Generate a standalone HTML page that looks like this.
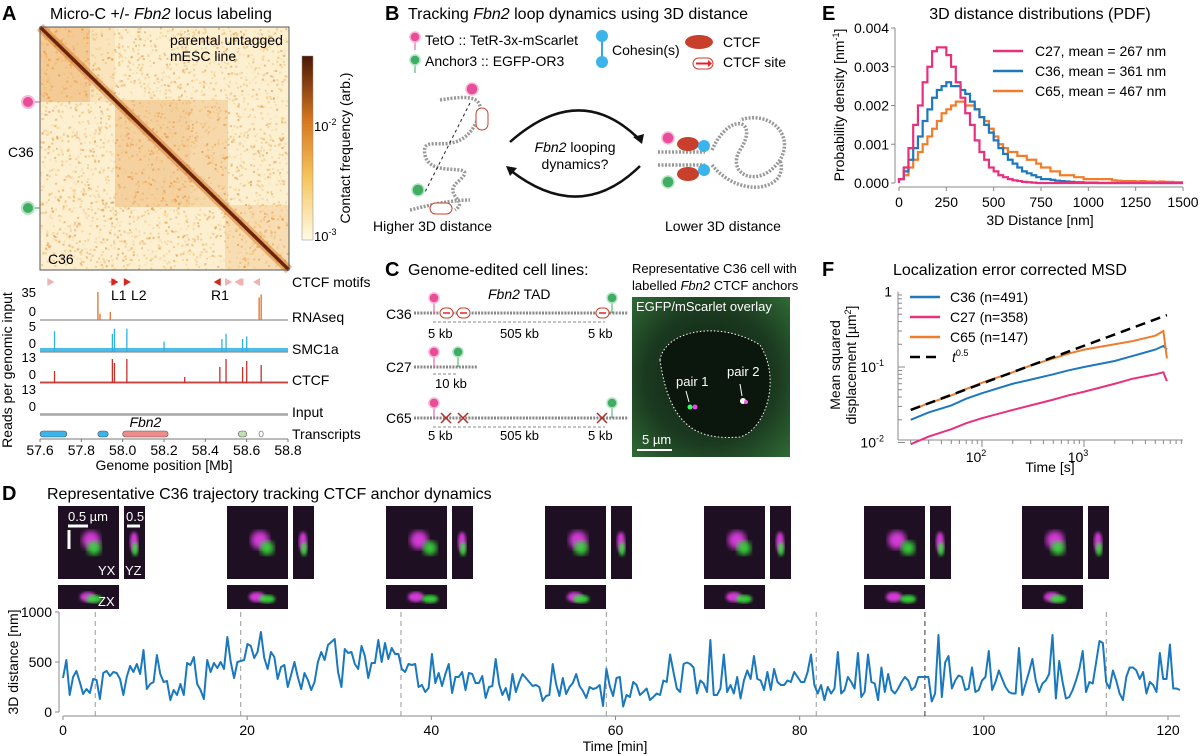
<!DOCTYPE html>
<html><head><meta charset="utf-8"><style>
html,body{margin:0;padding:0;background:#fff;}
svg{display:block;font-family:"Liberation Sans",Arial,sans-serif;}
</style></head><body>
<svg id="fig" width="1200" height="756" viewBox="0 0 1200 756" xmlns="http://www.w3.org/2000/svg">
<defs>
<filter id="blur2"><feGaussianBlur stdDeviation="3"/></filter>
<filter id="blur1"><feGaussianBlur stdDeviation="1.5"/></filter>
<linearGradient id="cbar" x1="0" y1="1" x2="0" y2="0">
<stop offset="0" stop-color="#fffbe6"/><stop offset="0.35" stop-color="#f6c35a"/><stop offset="0.65" stop-color="#d7761f"/><stop offset="1" stop-color="#4a1805"/>
</linearGradient>
<radialGradient id="cell" cx="0.5" cy="0.5" r="0.7"><stop offset="0" stop-color="#0e1d10"/><stop offset="0.6" stop-color="#1b3a20"/><stop offset="1" stop-color="#2f6a35"/></radialGradient>
</defs>

<!-- PANEL A -->
<g>
<text x="2" y="20" font-size="20" font-weight="bold">A</text>
<text x="50" y="19" font-size="16">Micro-C +/- <tspan font-style="italic">Fbn2</tspan> locus labeling</text>
<g>
<rect x="40" y="27" width="249" height="243" fill="#fdf0d0"/>
<rect x="40" y="27" width="50" height="75" fill="#e8903a" opacity="0.3"/>
<rect x="40" y="27" width="75" height="75" fill="#eea04a" opacity="0.15"/>
<rect x="115" y="100" width="113" height="107" fill="#e8903a" opacity="0.25"/>
<rect x="115" y="100" width="75" height="107" fill="#e8903a" opacity="0.1"/>
<rect x="225" y="205" width="64" height="65" fill="#e8903a" opacity="0.2"/>
<g id="speckle"></g>
<line x1="40" y1="27" x2="289" y2="270" stroke="#d9782a" stroke-width="9" opacity="0.5"/>
<line x1="40" y1="27" x2="289" y2="270" stroke="#6b2508" stroke-width="3.5"/>
<rect x="40" y="27" width="249" height="243" fill="none" stroke="#555" stroke-width="1"/>
<text x="170" y="45" font-size="14">parental untagged</text>
<text x="170" y="61" font-size="14">mESC line</text>
<text x="48" y="264" font-size="14">C36</text>
</g>
<line x1="28" y1="102" x2="40" y2="102" stroke="#e3478f"/>
<circle cx="28" cy="102" r="6" fill="#e94d9a" stroke="#f9b6d6" stroke-width="2"/>
<line x1="28" y1="208" x2="40" y2="208" stroke="#3a9e58"/>
<circle cx="28" cy="208" r="6" fill="#3fae62" stroke="#b5e3c3" stroke-width="2"/>
<text x="8" y="157" font-size="14">C36</text>
<rect x="302" y="56" width="11" height="184" fill="url(#cbar)" stroke="#888" stroke-width="0.5"/>
<text x="314" y="131" font-size="13">10<tspan font-size="9" dy="-6">-2</tspan></text>
<text x="314" y="241" font-size="13">10<tspan font-size="9" dy="-6">-3</tspan></text>
<text transform="translate(350,148) rotate(-90)" text-anchor="middle" font-size="14">Contact frequency (arb.)</text>
<g id="tracks"></g>
</g>

<!-- PANEL B -->
<g>
<text x="385" y="20" font-size="20" font-weight="bold">B</text>
<text x="408" y="19" font-size="16">Tracking <tspan font-style="italic">Fbn2</tspan> loop dynamics using 3D distance</text>
<line x1="415" y1="42" x2="415" y2="50" stroke="#e94d9a"/><circle cx="415" cy="37" r="5" fill="#e94d9a" stroke="#f9b6d6" stroke-width="1.5"/>
<text x="425" y="45" font-size="14">TetO :: TetR-3x-mScarlet</text>
<line x1="415" y1="65" x2="415" y2="73" stroke="#3fae62"/><circle cx="415" cy="60" r="5" fill="#3fae62" stroke="#b5e3c3" stroke-width="1.5"/>
<text x="425" y="66" font-size="14">Anchor3 :: EGFP-OR3</text>
<line x1="602" y1="36" x2="602" y2="62" stroke="#37a9e0" stroke-width="2"/>
<circle cx="602" cy="36" r="6" fill="#3ab4ea"/><circle cx="602" cy="62" r="6" fill="#3ab4ea"/>
<text x="612" y="55" font-size="14">Cohesin(s)</text>
<ellipse cx="699" cy="42" rx="14" ry="7" fill="#c8402c"/>
<text x="723" y="47" font-size="14">CTCF</text>
<rect x="693" y="58" width="20" height="11" rx="5.5" fill="#fff" stroke="#c8402c"/><line x1="696" y1="63.5" x2="708" y2="63.5" stroke="#e8202a" stroke-width="2"/><polygon points="708,60 712,63.5 708,67" fill="#e8202a"/>
<text x="723" y="67" font-size="14">CTCF site</text>
<g fill="none" stroke="#999" stroke-width="3.5" stroke-dasharray="2 1.5">
<path d="M440,100 C470,95 490,95 475,125 C455,160 420,130 425,155 C430,180 480,160 460,180 C440,195 470,200 455,210"/>
<path d="M410,210 C430,205 450,200 470,200"/>
</g>
<line x1="470" y1="103" x2="425" y2="192" stroke="#222" stroke-dasharray="3 3"/>
<circle cx="472" cy="89" r="6" fill="#e94d9a" stroke="#f9b6d6" stroke-width="1.5"/>
<circle cx="418" cy="190" r="6" fill="#3fae62" stroke="#b5e3c3" stroke-width="1.5"/>
<rect x="476" y="108" width="12" height="22" rx="6" fill="#fff" stroke="#c8402c"/>
<rect x="430" y="203" width="22" height="11" rx="5.5" fill="#fff" stroke="#c8402c"/>
<path d="M510,142 Q580,80 640,140" fill="none" stroke="#111" stroke-width="2.5"/>
<polygon points="642,144 633,137 644,134" fill="#111"/>
<path d="M640,166 Q580,225 510,170" fill="none" stroke="#111" stroke-width="2.5"/>
<polygon points="506,166 517,168 510,176" fill="#111"/>
<text x="575" y="152" font-size="14" text-anchor="middle"><tspan font-style="italic">Fbn2</tspan> looping</text>
<text x="575" y="169" font-size="14" text-anchor="middle">dynamics?</text>
<g fill="none" stroke="#999" stroke-width="3.5" stroke-dasharray="2 1.5">
<path d="M658,152 L705,152 M658,165 L705,165"/>
<path d="M712,150 C730,110 760,120 740,150 C725,175 760,190 780,160 C795,135 770,110 740,120"/>
<path d="M712,165 C740,200 790,190 780,160"/>
</g>
<circle cx="668" cy="138" r="6" fill="#e94d9a" stroke="#f9b6d6" stroke-width="1.5"/>
<circle cx="668" cy="182" r="6" fill="#3fae62" stroke="#b5e3c3" stroke-width="1.5"/>
<ellipse cx="688" cy="144" rx="11" ry="7" fill="#c8402c"/><ellipse cx="688" cy="174" rx="11" ry="7" fill="#c8402c"/>
<circle cx="704" cy="146" r="6" fill="#3ab4ea"/><circle cx="704" cy="170" r="6" fill="#3ab4ea"/>
<text x="373" y="231" font-size="14">Higher 3D distance</text>
<text x="665" y="231" font-size="14">Lower 3D distance</text>
</g>

<!-- PANEL C -->
<g>
<text x="385" y="276" font-size="20" font-weight="bold">C</text>
<text x="408" y="275" font-size="16">Genome-edited cell lines:</text>
<text x="632" y="273" font-size="13">Representative C36 cell with</text>
<text x="632" y="290" font-size="13">labelled <tspan font-style="italic">Fbn2</tspan> CTCF anchors</text>
<text x="488" y="299" font-size="14"><tspan font-style="italic">Fbn2</tspan> TAD</text>
<g font-size="14">
<text x="386" y="319">C36</text>
<text x="386" y="372">C27</text>
<text x="386" y="423">C65</text>
</g>
<g fill="none" stroke="#888" stroke-width="3" stroke-dasharray="2 1.2">
<line x1="414" y1="313" x2="628" y2="313"/><line x1="414" y1="367" x2="478" y2="367"/><line x1="414" y1="418" x2="628" y2="418"/>
</g>
<g stroke="#888" stroke-dasharray="3 2"><line x1="433" y1="322" x2="605" y2="322"/><line x1="433" y1="374" x2="458" y2="374"/><line x1="433" y1="427" x2="605" y2="427"/></g>
<g font-size="13">
<text x="428" y="338">5 kb</text><text x="500" y="338">505 kb</text><text x="588" y="338">5 kb</text>
<text x="435" y="388">10 kb</text>
<text x="428" y="440">5 kb</text><text x="500" y="440">505 kb</text><text x="588" y="440">5 kb</text>
</g>
<g id="pins"></g>
<g>
<rect x="632" y="297" width="158" height="160" fill="url(#cell)"/>
<path d="M660,360 C665,330 720,320 760,345 C782,380 765,430 740,437 C700,440 670,430 660,360 Z" fill="#0b160c" stroke="#fff" stroke-dasharray="1.5 2" stroke-width="1"/>
<text x="636" y="311" font-size="13" fill="#fff">EGFP/mScarlet overlay</text>
<text x="676" y="386" font-size="13" fill="#fff">pair 1</text>
<text x="727" y="376" font-size="13" fill="#fff">pair 2</text>
<circle cx="690" cy="407" r="2.5" fill="#3f6"/><circle cx="695" cy="407" r="2.5" fill="#e4e"/>
<circle cx="743" cy="401" r="3" fill="#fff"/><circle cx="746" cy="402" r="2" fill="#e6e"/>
<line x1="686" y1="391" x2="689" y2="402" stroke="#fff"/><line x1="740" y1="384" x2="742" y2="396" stroke="#fff"/>
<line x1="637" y1="450" x2="672" y2="450" stroke="#fff" stroke-width="2"/>
<text x="642" y="444" font-size="13" fill="#fff">5 µm</text>
</g>
</g>

<!-- PANEL E -->
<g>
<text x="822" y="20" font-size="20" font-weight="bold">E</text>
<text x="1040" y="19" font-size="16" text-anchor="middle">3D distance distributions (PDF)</text>
<text transform="translate(844,105) rotate(-90)" font-size="14" text-anchor="middle">Probability density [nm<tspan font-size="9" dy="-5">-1</tspan><tspan dy="5">]</tspan></text>
<text x="1040" y="225" font-size="14" text-anchor="middle">3D Distance [nm]</text>
<g id="chartE"></g>
</g>

<!-- PANEL F -->
<g>
<text x="822" y="276" font-size="20" font-weight="bold">F</text>
<text x="893" y="275" font-size="16">Localization error corrected MSD</text>
<text transform="translate(840,365) rotate(-90)" font-size="14" text-anchor="middle">Mean squared</text>
<text transform="translate(856,365) rotate(-90)" font-size="14" text-anchor="middle">displacement [µm<tspan font-size="9" dy="-5">2</tspan><tspan dy="5">]</tspan></text>
<text x="1050" y="472" font-size="14" text-anchor="middle">Time [s]</text>
<g id="chartF"></g>
</g>

<!-- PANEL D -->
<g>
<text x="2" y="500" font-size="20" font-weight="bold">D</text>
<text x="47" y="499" font-size="16">Representative C36 trajectory tracking CTCF anchor dynamics</text>
<g id="tiles"></g>
<text transform="translate(18,662) rotate(-90)" font-size="14" text-anchor="middle">3D distance [nm]</text>
<text x="615" y="751" font-size="14" text-anchor="middle">Time [min]</text>
<g id="chartD"></g>
</g>
</svg>

<script>
// ===== Panel D data =====
const trajValues = [340,520,170,350,410,300,180,230,190,330,320,130,390,410,360,400,390,330,170,350,460,400,480,380,620,230,280,300,570,380,300,310,120,220,170,280,170,490,470,550,280,220,130,520,400,490,440,500,430,750,500,340,500,510,520,680,660,540,600,800,540,430,600,550,330,450,470,250,370,500,350,230,390,320,220,300,500,600,520,670,700,730,400,250,630,590,600,480,430,660,560,340,490,490,720,500,690,530,640,580,580,430,400,480,470,480,250,270,200,240,580,290,390,260,380,480,190,350,350,400,220,390,380,290,290,360,140,250,260,530,280,170,240,120,380,200,300,380,340,300,260,270,250,110,160,170,480,280,160,340,180,250,290,380,260,210,140,250,230,240,270,60,430,260,160,340,
350,55,170,150,300,270,170,200,235,120,150,185,170,315,300,575,400,235,200,480,495,480,445,185,315,285,200,720,170,170,235,575,200,270,185,350,135,315,415,330,560,330,315,220,400,220,430,300,270,270,315,300,400,350,300,300,400,575,270,185,270,120,250,185,235,600,185,220,350,300,235,590,150,200,575,300,285,120,445,200,380,220,185,235,300,350,315,220,250,350,350,350,350,105,185,770,150,495,560,235,315,365,350,220,235,445,200,220,315,350,610,220,300,415,330,250,200,185,185,640,170,285,400,530,315,200,285,315,380,770,135,510,300,135,150,220,315,430,610,200,300,285,495,710,690,300,235,415,315,185,120,350,445,445,415,330,400,185,300,270,200,590,330,330,675,235,235,220];
const trajEndTime = 121.3;
const frameTimes = [3.5, 19.3, 36.7, 59, 81.8, 93.6, 113.3];
const dXTicks = [0,20,40,60,80,100,120];
const dYTicks = [0,500,1000];

// ===== Panel E data =====
const eBinWidth = 25;
const pdfC27 = [0.0001,0.0004,0.0009,0.0015,0.002,0.0026,0.003,0.0034,0.0035,0.0035,0.0033,0.003,0.0026,0.0022,0.0018,0.0015,0.0011,0.0008,0.0006,0.0004,0.0003,0.0002,0.00015,0.0001,0.00007,0.00005,0.00003,0.00002,0.00001,0,0,0,0,0,0,0,0,0,0,0,0,0,0,0,0,0,0,0,0,0,0,0,0,0,0,0,0,0,0,0];
const pdfC36 = [0.0001,0.0003,0.0006,0.0009,0.0012,0.0016,0.0019,0.0022,0.0024,0.0025,0.0026,0.0025,0.0025,0.0024,0.0023,0.0021,0.0019,0.0017,0.0015,0.0013,0.0011,0.0009,0.00075,0.0006,0.0005,0.0004,0.0003,0.00025,0.0002,0.00015,0.0001,0.0001,0.00008,0.00006,0.00005,0.00004,0.00003,0.00002,0.00002,0.00001,0.00001,0.00001,0,0,0,0,0,0,0,0,0,0,0,0,0,0,0,0,0,0];
const pdfC65 = [0.0001,0.0002,0.0004,0.0006,0.0008,0.001,0.0012,0.0014,0.0016,0.0018,0.0019,0.002,0.0021,0.0021,0.002,0.002,0.0019,0.0017,0.0016,0.0014,0.0012,0.001,0.0009,0.0008,0.0008,0.0007,0.0007,0.0006,0.0006,0.0005,0.0004,0.0004,0.0003,0.0003,0.0002,0.0002,0.0002,0.00015,0.00015,0.0001,0.0001,0.0001,0.0001,0.0001,0.0001,0.00007,0.00006,0.00005,0.00005,0.00005,0.00004,0.00005,0.00004,0.00004,0.00003,0.00004,0.00003,0.00003,0.00002,0.00002];
const eSeriesNames = ["C27,  mean = 267 nm","C36,  mean = 361 nm","C65,  mean = 467 nm"];
const eXTicks = [0,250,500,750,1000,1250,1500];
const eYTicks = [0,0.001,0.002,0.003,0.004];

// ===== Panel F data =====
const msdTimes = [20,30,50,70,100,200,300,500,700,1000,2000,3000,5000,6000,6500];
const msdC36 = [0.02,0.025,0.031,0.038,0.045,0.06,0.068,0.08,0.09,0.1,0.12,0.14,0.17,0.19,0.17];
const msdC27 = [0.0095,0.012,0.015,0.018,0.021,0.027,0.031,0.037,0.042,0.047,0.06,0.07,0.08,0.085,0.065];
const msdC65 = [0.027,0.033,0.042,0.051,0.062,0.085,0.105,0.13,0.15,0.17,0.2,0.22,0.26,0.3,0.13];
const fSeriesNames = ["C36 (n=491)","C27 (n=358)","C65 (n=147)"];
const fYTickExps = [-2,-1,0];

// ===== Panel A tracks data =====
const genomeTicks = [57.6,57.8,58.0,58.2,58.4,58.6,58.8];
const rnaPeaksPos = [57.88,57.89,57.94,58.66,58.67];
const rnaPeaksVal = [35,8,10,28,32];
const smcPeaksPos = [57.67,57.95,57.96,58.02,58.2,58.48,58.5,58.58,58.6];
const smcPeaksVal = [4,3.5,4.5,4.5,2,2.5,3.5,2.5,3];
const ctcfPeaksPos = [57.67,57.95,57.96,58.02,58.3,58.47,58.5,58.58,58.6,58.67];
const ctcfPeaksVal = [6,12,10,12,3,8,12,8,11,9];
const motifPos = [57.65,57.95,57.96,58.02,58.46,58.51,58.56,58.57,58.65];
const motifDir = [1,-1,1,1,-1,1,-1,-1,-1];
const motifStrong = [0,0,1,1,1,0,0,0,0];

const NS="http://www.w3.org/2000/svg";
function el(tag, attrs, parent){const e=document.createElementNS(NS,tag);for(const k in attrs)e.setAttribute(k,attrs[k]);parent.appendChild(e);return e;}
function txt(s, attrs, parent){const e=el('text',attrs,parent);e.textContent=s;return e;}

// ---------- heatmap speckle texture (decorative) ----------
(function(){
const g=document.getElementById('speckle');


let seed=12345;
const rnd=()=>{seed=(seed*1103515245+12345)%2147483648;return seed/2147483648;};
let s='';
for(let i=0;i<2600;i++){const x=40+rnd()*247,y=27+rnd()*241;const o=(0.15+rnd()*0.45).toFixed(2);
const c=rnd()<0.5?'#e38a35':'#f0b860';
s+='<rect x="'+x.toFixed(1)+'" y="'+y.toFixed(1)+'" width="2" height="2" fill="'+c+'" opacity="'+o+'"/>';}
g.innerHTML=s;
})();

// ---------- Panel E ----------
(function(){
const g=document.getElementById('chartE');
const x0=899,x1=1183,y0=183,y1=28;
const xs=v=>x0+(v/1500)*(x1-x0);
const ys=v=>y0-(v/0.004)*(y0-y1);
let a=el('line',{x1:x0-4,y1:y0,x2:x0-4,y2:y1,stroke:'#888'},g);


a=el('line',{x1:x0,y1:y0+4,x2:x1,y2:y0+4,stroke:'#888'},g);


eXTicks.forEach(t=>{el('line',{x1:xs(t),y1:y0+4,x2:xs(t),y2:y0+8,stroke:'#888'},g);
const tl=txt(String(t),{x:xs(t),y:y0+24,'font-size':14,'text-anchor':'middle'},g);

});
eYTicks.forEach(t=>{el('line',{x1:x0-8,y1:ys(t),x2:x0-4,y2:ys(t),stroke:'#888'},g);
const tl=txt(t.toFixed(3),{x:x0-10,y:ys(t)+5,'font-size':14,'text-anchor':'end'},g);

});
const cols=['#e8317c','#1f78bd','#f07d2c'];
const data=[pdfC27,pdfC36,pdfC65];
const order=[2,1,0];
order.forEach(i=>{let d='M'+xs(0)+','+ys(0);data[i].forEach((v,k)=>{d+=' L'+xs(k*eBinWidth)+','+ys(v)+' L'+xs((k+1)*eBinWidth)+','+ys(v);});
const p=el('path',{d:d,fill:'none',stroke:cols[i],'stroke-width':2.2},g);

});
eSeriesNames.forEach((n,i)=>{const ly=51+i*20;
const l=el('line',{x1:993,y1:ly,x2:1023,y2:ly,stroke:cols[i],'stroke-width':2.5},g);


const t=txt(n,{x:1035,y:ly+5,'font-size':14},g);

});
})();

// ---------- Panel F ----------
(function(){
const g=document.getElementById('chartF');
const x0=898,x1=1183,yb=440;
const xs=v=>982+(Math.log10(v)-2)*102;
const ys=v=>367-(Math.log10(v)+1)*75.5;
let a=el('line',{x1:x0,y1:yb,x2:x0,y2:ys(1),stroke:'#888'},g);


a=el('line',{x1:x0,y1:yb,x2:x1,y2:yb,stroke:'#888'},g);


for(let e=1;e<=3;e++)for(let m=1;m<10;m++){const v=m*Math.pow(10,e);if(v<20||v>9000)continue;
el('line',{x1:xs(v),y1:yb,x2:xs(v),y2:yb+(m===1?7:4),stroke:'#888'},g);}
for(let e=-2;e<0;e++)for(let m=1;m<10;m++){const v=m*Math.pow(10,e);
el('line',{x1:x0,y1:ys(v),x2:x0+(m===1?7:4),y2:ys(v),stroke:'#888'},g);}
[2,3].forEach(e=>{const t=txt('10',{x:xs(Math.pow(10,e))-6,y:yb+22,'font-size':14,'text-anchor':'middle'},g);
const s=el('tspan',{'font-size':9,dy:-6},t);s.textContent=String(e);

});
fYTickExps.forEach(e=>{const t=txt(e===0?'1':'10',{x:x0-(e===0?6:14),y:ys(Math.pow(10,e))+5,'font-size':14,'text-anchor':'end'},g);
if(e!==0){const s=el('tspan',{'font-size':9,dy:-6},t);s.textContent=String(e);}

});
const cols=['#1f78bd','#e8317c','#f07d2c'];
const data=[msdC36,msdC27,msdC65];
[1,0,2].forEach(i=>{const pts=msdTimes.map((t,k)=>xs(t)+','+ys(data[i][k])).join(' ');
const p=el('polyline',{points:pts,fill:'none',stroke:cols[i],'stroke-width':2},g);

});
const ref=el('line',{x1:xs(msdTimes[0]),y1:ys(msdC65[0]),x2:xs(6500),y2:ys(msdC65[0]*Math.sqrt(6500/msdTimes[0])),stroke:'#000','stroke-width':2.5,'stroke-dasharray':'10 6'},g);


fSeriesNames.forEach((n,i)=>{const ly=297+i*20;
const l=el('line',{x1:910,y1:ly,x2:940,y2:ly,stroke:cols[i],'stroke-width':2.5},g);


const t=txt(n,{x:950,y:ly+5,'font-size':14},g);

});
const l=el('line',{x1:910,y1:357,x2:940,y2:357,stroke:'#000','stroke-width':2.5,'stroke-dasharray':'10 6'},g);


const t=txt('t',{x:952,y:362,'font-size':14,'font-style':'italic'},g);
const s=el('tspan',{'font-size':9,dy:-6,'font-style':'normal'},t);s.textContent='0.5';


})();

// ---------- Panel D ----------
(function(){
const g=document.getElementById('chartD');
const xs=v=>63+v*(1168-63)/120;
const ys=v=>712-v*0.1;
let a=el('line',{x1:59,y1:ys(0),x2:59,y2:ys(1000),stroke:'#888'},g);


a=el('line',{x1:xs(0),y1:716,x2:1180,y2:716,stroke:'#888'},g);


dXTicks.forEach(t=>{el('line',{x1:xs(t),y1:716,x2:xs(t),y2:720,stroke:'#888'},g);
const tl=txt(String(t),{x:xs(t),y:735,'font-size':14,'text-anchor':'middle'},g);

});
dYTicks.forEach(t=>{el('line',{x1:55,y1:ys(t),x2:59,y2:ys(t),stroke:'#888'},g);
const tl=txt(String(t),{x:52,y:ys(t)+5,'font-size':14,'text-anchor':'end'},g);

});
frameTimes.forEach((t,i)=>{const l=el('line',{x1:xs(t),y1:612,x2:xs(t),y2:716,stroke:i===5?'#333':'#999','stroke-dasharray':'5 4'},g);

});
const n=trajValues.length;
const pts=trajValues.map((v,k)=>xs(k*trajEndTime/(n-1))+','+ys(v)).join(' ');
const p=el('polyline',{points:pts,fill:'none',stroke:'#1a78bd','stroke-width':2,'stroke-linejoin':'round'},g);


const tg=document.getElementById('tiles');
const tileX=[58,227,386,545,704,864,1022];
tileX.forEach((bx,i)=>{
const r1=el('rect',{x:bx,y:506,width:61,height:73,fill:'#1e0f22'},tg);


const r2=el('rect',{x:bx+66,y:506,width:21,height:73,fill:'#1e0f22'},tg);


const r3=el('rect',{x:bx,y:585,width:61,height:24,fill:'#1e0f22'},tg);


const off=(i%3)*4;
el('circle',{cx:bx+33,cy:540,r:9,fill:'#d33ad6',filter:'url(#blur2)'},tg);
el('circle',{cx:bx+36+off,cy:548,r:7,fill:'#39e03a',filter:'url(#blur2)',opacity:0.9},tg);
el('ellipse',{cx:bx+76,cy:542,rx:4,ry:10,fill:'#d33ad6',filter:'url(#blur1)'},tg);
el('ellipse',{cx:bx+77,cy:549,rx:3,ry:7,fill:'#39e03a',filter:'url(#blur1)',opacity:0.9},tg);
el('ellipse',{cx:bx+30,cy:597,rx:8,ry:5,fill:'#d33ad6',filter:'url(#blur1)'},tg);
el('ellipse',{cx:bx+36+off,cy:599,rx:8,ry:4,fill:'#39e03a',filter:'url(#blur1)',opacity:0.9},tg);
});
el('line',{x1:68,y1:526,x2:88,y2:526,stroke:'#fff','stroke-width':3},tg);
el('line',{x1:69,y1:530,x2:69,y2:549,stroke:'#fff','stroke-width':3},tg);
el('line',{x1:127,y1:526,x2:140,y2:526,stroke:'#fff','stroke-width':3},tg);
txt('0.5 µm',{x:68,y:521,'font-size':13,fill:'#fff'},tg);
txt('0.5',{x:126,y:521,'font-size':13,fill:'#fff'},tg);
txt('YX',{x:98,y:575,'font-size':13,fill:'#fff'},tg);
txt('YZ',{x:125,y:575,'font-size':13,fill:'#fff'},tg);
txt('ZX',{x:98,y:606,'font-size':13,fill:'#fff'},tg);
})();

// ---------- Panel A tracks ----------
(function(){
const g=document.getElementById('tracks');
const gx=v=>40+(v-57.6)/1.2*248;
motifPos.forEach((p,i)=>{const x=gx(p),y=282,d=motifDir[i];
const m=el('polygon',{points:(x-3*d)+','+(y-4)+' '+(x+4*d)+','+y+' '+(x-3*d)+','+(y+4),fill:motifStrong[i]?'#d3271f':'#f0b2b0'},g);

});
txt('CTCF motifs',{x:292,y:287,'font-size':14},g);
txt('L1',{x:111,y:300,'font-size':14},g);txt('L2',{x:131,y:300,'font-size':14},g);txt('R1',{x:211,y:300,'font-size':14},g);
function track(base,h,maxv,pos,val,col,name,t1,t2,noise){
el('line',{x1:40,y1:base,x2:288,y2:base,stroke:'#777'},g);
if(noise){el('rect',{x:40,y:base-noise,width:248,height:noise,fill:col,opacity:0.85},g);}
pos.forEach((p,i)=>{const b=el('rect',{x:gx(p)-0.6,y:base-val[i]/maxv*h,width:1.3,height:val[i]/maxv*h,fill:col},g);

});
const l=txt(name,{x:292,y:base+2,'font-size':14},g);


txt(t1,{x:36,y:base-h+5,'font-size':13,'text-anchor':'end'},g);
txt('0',{x:36,y:base-4,'font-size':13,'text-anchor':'end'},g);
}
track(320,28,35,rnaPeaksPos,rnaPeaksVal,'#e0702c','RNAseq','35');
track(352,26,5,smcPeaksPos,smcPeaksVal,'#2eb0e3','SMC1a','5',null,4);
track(383,26,13,ctcfPeaksPos,ctcfPeaksVal,'#c8302a','CTCF','13',null,1.5);
track(415,26,13,[],[],'#aaa','Input','13',null,2);
const tr=[[57.6,57.73,'#3ab4ea'],[57.88,57.93,'#3ab4ea'],[58.0,58.22,'#f08b8b'],[58.56,58.6,'#bfe3b0'],[58.66,58.68,'#fff']];
tr.forEach(t=>{const r=el('rect',{x:gx(t[0]),y:431,width:gx(t[1])-gx(t[0]),height:6,rx:3,fill:t[2],stroke:'#555','stroke-width':0.6},g);

});
txt('Fbn2',{x:gx(58.11),y:427,'font-size':14,'font-style':'italic','text-anchor':'middle'},g);
txt('Transcripts',{x:292,y:439,'font-size':14},g);
genomeTicks.forEach(t=>{el('line',{x1:gx(t),y1:439,x2:gx(t),y2:442,stroke:'#777'},g);
const tl=txt(t.toFixed(1),{x:gx(t),y:455,'font-size':14,'text-anchor':'middle'},g);

});
el('line',{x1:40,y1:439,x2:288,y2:439,stroke:'#777'},g);
txt('Genome position [Mb]',{x:164,y:470,'font-size':14,'text-anchor':'middle'},g);
const yl=txt('Reads per genomic input',{transform:'translate(12,370) rotate(-90)','font-size':14,'text-anchor':'middle'},g);


})();

// ---------- Panel C pins ----------
(function(){
const g=document.getElementById('pins');
const pins=[[434,313,'p'],[612,313,'g'],[434,367,'p'],[458,367,'g'],[434,418,'p'],[612,418,'g']];
pins.forEach(p=>{el('line',{x1:p[0],y1:p[1]-12,x2:p[0],y2:p[1],stroke:p[2]==='p'?'#e94d9a':'#3fae62'},g);
const c=el('circle',{cx:p[0],cy:p[1]-15,r:5,fill:p[2]==='p'?'#e94d9a':'#3fae62',stroke:p[2]==='p'?'#f9b6d6':'#b5e3c3','stroke-width':1.5},g);

});
[[440,313],[457,313],[596,313]].forEach(s=>{el('rect',{x:s[0],y:s[1]-5,width:13,height:10,rx:5,fill:'#fff',stroke:'#c8402c'},g);
el('line',{x1:s[0]+3,y1:s[1],x2:s[0]+10,y2:s[1],stroke:'#e8202a','stroke-width':1.5},g);});
[[446,418],[463,418],[602,418]].forEach(s=>{el('path',{d:'M'+(s[0]-5)+','+(s[1]-5)+' l10,10 M'+(s[0]+5)+','+(s[1]-5)+' l-10,10',stroke:'#b0302a','stroke-width':1.5},g);});
})();
</script>
</body></html>
